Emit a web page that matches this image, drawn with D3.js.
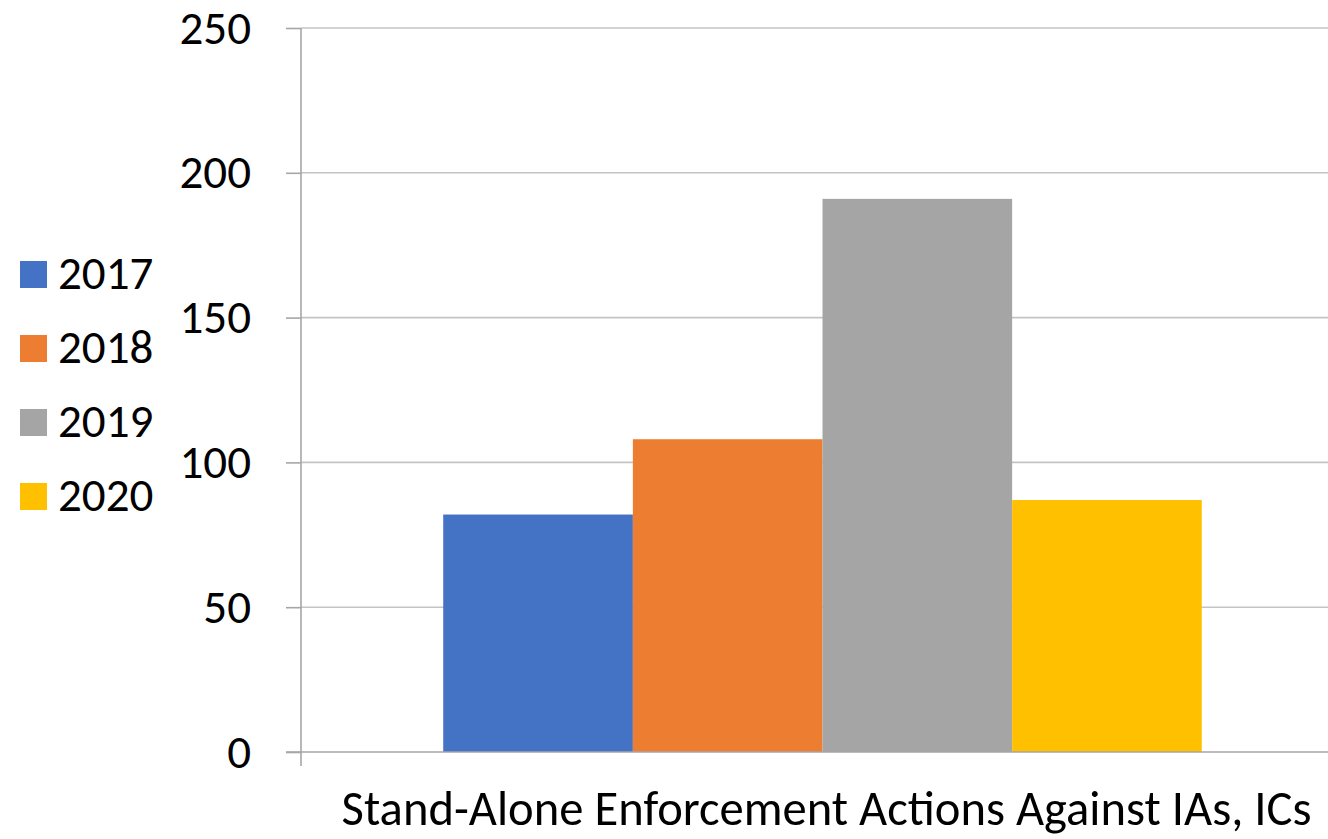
<!DOCTYPE html>
<html>
<head>
<meta charset="utf-8">
<script src="https://cdn.jsdelivr.net/npm/d3@7"></script>
<style>
  html, body { margin: 0; padding: 0; background: #ffffff; }
  svg { display: block; }
  text { font-family: Carlito, Calibri, "Open Sans", "Liberation Sans", sans-serif; fill: #000; }
</style>
</head>
<body>
<svg id="chart" width="1328" height="839"></svg>
<script>
// Enforcement actions by year
const categories = ["Stand-Alone Enforcement Actions Against IAs, ICs"];
const years = ["2017", "2018", "2019", "2020"];
const values = [82, 108, 191, 87];
const colors = ["#4472C4", "#ED7D31", "#A5A5A5", "#FFC000"];
const yTicks = [0, 50, 100, 150, 200, 250];

const svg = d3.select("#chart");
const plot = { left: 301, right: 1344, top: 28, bottom: 752 };

const y = d3.scaleLinear().domain([0, 250]).range([plot.bottom, plot.top]);
const x0 = d3.scaleBand().domain(categories).range([plot.left, plot.right]).padding(0);
// Gap between category groups is 150% of a single bar's width
const groupWidth = x0.bandwidth() * years.length / (years.length + 1.5);
const x1 = d3.scaleBand().domain(years).range([0, groupWidth]).padding(0);

// Horizontal gridlines
svg.append("g")
  .selectAll("line")
  .data(yTicks.filter(d => d > 0))
  .join("line")
  .attr("x1", plot.left).attr("x2", plot.right)
  .attr("y1", d => y(d)).attr("y2", d => y(d))
  .attr("stroke", "#c4c4c4")
  .attr("stroke-width", 1.6);

// Bars
const group = svg.append("g")
  .selectAll("g")
  .data(categories)
  .join("g")
  .attr("transform", d => `translate(${x0(d) + (x0.bandwidth() - groupWidth) / 2},0)`);

group.selectAll("rect")
  .data(() => years.map((yr, i) => ({ yr, v: values[i], c: colors[i] })))
  .join("rect")
  .attr("x", d => x1(d.yr))
  .attr("width", x1.bandwidth())
  .attr("y", d => y(d.v))
  .attr("height", d => y(0) - y(d.v))
  .attr("fill", d => d.c);

// Value axis
const yAxis = svg.append("g")
  .attr("transform", `translate(${plot.left},0)`)
  .call(d3.axisLeft(y).tickValues(yTicks).tickSize(15).tickPadding(35).tickFormat(d3.format("d")));
yAxis.select(".domain").attr("stroke", "#a6a6a6").attr("stroke-width", 1.6)
  .attr("d", `M0,${plot.top}V${plot.bottom + 14}`);
yAxis.selectAll(".tick line").attr("stroke", "#a6a6a6").attr("stroke-width", 1.6);
yAxis.selectAll(".tick text")
  .style("font-size", "47px")
  .attr("dy", "0.32em");

// Category axis baseline
svg.append("line")
  .attr("x1", plot.left - 15).attr("x2", plot.right)
  .attr("y1", y(0)).attr("y2", y(0))
  .attr("stroke", "#a6a6a6").attr("stroke-width", 1.6);

// Category label
svg.append("g")
  .selectAll("text")
  .data(categories)
  .join("text")
  .attr("x", d => x0(d) + x0.bandwidth() / 2 + 4)
  .attr("y", 825)
  .attr("text-anchor", "middle")
  .style("font-size", "48.6px")
  .text(d => d);

// Legend
const legend = svg.append("g").attr("transform", "translate(20,261)");
const item = legend.selectAll("g")
  .data(years)
  .join("g")
  .attr("transform", (d, i) => `translate(0,${i * 74})`);
item.append("rect").attr("width", 27).attr("height", 27).attr("fill", (d, i) => colors[i]);
item.append("text")
  .attr("x", 38)
  .attr("y", 28)
  .style("font-size", "47px")
  .text(d => d);
</script>
</body>
</html>
